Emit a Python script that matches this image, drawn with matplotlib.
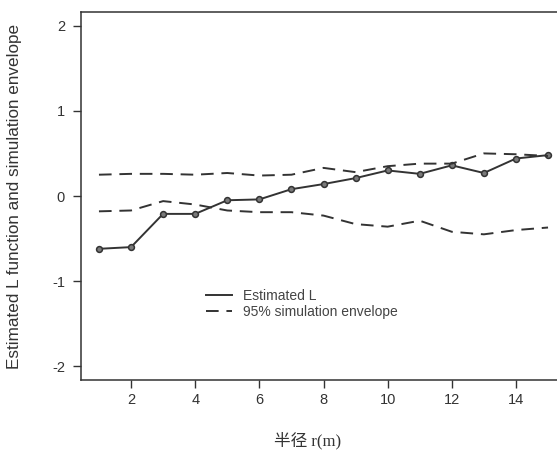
import numpy as np
import matplotlib
matplotlib.use("Agg")
import matplotlib.pyplot as plt

plt.rcParams['font.family'] = ['Liberation Sans', 'DejaVu Sans']
plt.rcParams['axes.unicode_minus'] = False

# distance bands (m)
r = np.arange(1, 16)

# estimated L function
est_L = [-0.62, -0.60, -0.21, -0.21, -0.05, -0.04, 0.08, 0.14,
         0.21, 0.30, 0.26, 0.36, 0.27, 0.44, 0.48]

# 95% simulation envelope
env_hi = [0.25, 0.26, 0.26, 0.25, 0.27, 0.24, 0.25, 0.33,
          0.28, 0.35, 0.38, 0.38, 0.50, 0.49, 0.47]
env_lo = [-0.18, -0.17, -0.06, -0.10, -0.17, -0.19, -0.19, -0.23,
          -0.33, -0.36, -0.29, -0.42, -0.45, -0.40, -0.37]

xticks = [2, 4, 6, 8, 10, 12, 14]
yticks = [-2, -1, 0, 1, 2]

ink = '#333333'

fig = plt.figure(figsize=(5.57, 4.5), dpi=100)
ax = fig.add_axes([81 / 557, 1 - 380 / 450, 485 / 557, 368 / 450])

dash = (0, (6.5, 4.0))
ax.plot(r, est_L, color=ink, lw=1.4, marker='o', ms=4.2,
        mfc='#7a7a7a', mec=ink, mew=1.1, label='Estimated L')
ax.plot(r, env_hi, color=ink, lw=1.4, linestyle=dash,
        label='95% simulation envelope')
ax.plot(r, env_lo, color=ink, lw=1.4, linestyle=dash)

ax.set_xlim(0.44, 15.56)
ax.set_ylim(-2.16, 2.16)
ax.set_xticks(xticks)
ax.set_yticks(yticks)
ax.tick_params(direction='out', length=5.5, width=1.0, colors=ink,
               labelsize=10.5, labelcolor=ink)
ax.tick_params(axis='x', pad=3.5)
ax.tick_params(axis='y', pad=6)
for s in ax.spines.values():
    s.set_color(ink)
    s.set_linewidth(1.1)

fig.text(15 / 557, 1 - 196 / 450,
         'Estimated L function and simulation envelope',
         rotation=90, ha='center', va='center', fontsize=12.3, color=ink)

fig.text(308 / 557, 1 - 441 / 450, '半径 r(m)',
         family=['Liberation Serif', 'Noto Sans CJK SC'],
         ha='center', va='center', fontsize=12, color=ink)

handles, labels = ax.get_legend_handles_labels()
leg = ax.legend(handles, labels, loc='upper left',
                bbox_to_anchor=(206 / 557, 1 - 289 / 450),
                bbox_transform=fig.transFigure, frameon=False,
                fontsize=10, borderpad=0, borderaxespad=0,
                handlelength=1.85, handletextpad=0.8, labelspacing=0.15)
for line in leg.get_lines():
    line.set_marker('')
for t in leg.get_texts():
    t.set_color('#444444')

fig.savefig('out.png', dpi=100)
